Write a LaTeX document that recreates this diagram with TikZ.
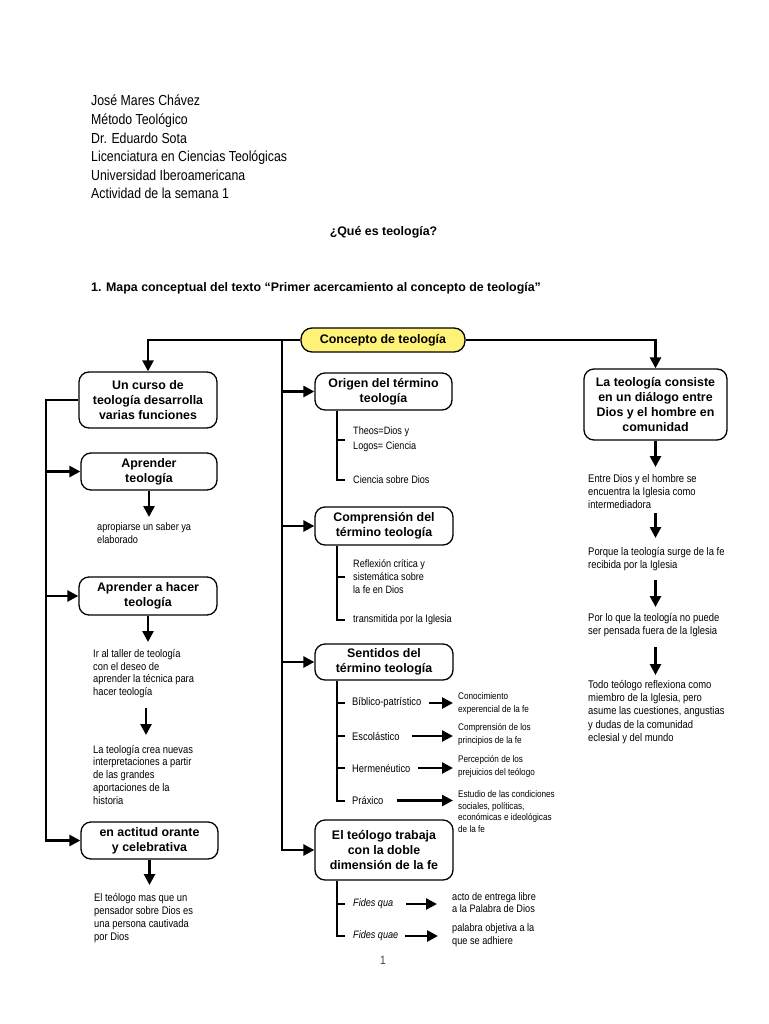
\documentclass[tikz,border=0pt]{standalone}
\usepackage{fontspec}
\setmainfont{Liberation Sans}
\newfontfamily\nf{Liberation Sans}[FakeStretch=0.85]
\usetikzlibrary{arrows.meta}
\definecolor{cyel}{RGB}{255,242,120}
\newcommand\myfz[2]{\nf\fontsize{#1}{#2}\selectfont}
\begin{document}
\begin{tikzpicture}[x=1pt,y=-1pt,
  box/.style={draw,line width=1.3pt,rounded corners=10pt,align=center,inner sep=0pt,
    font=\fontsize{12.4}{15}\selectfont\bfseries},
  conn/.style={line width=2.6pt},
  arr/.style={conn,-{Triangle[length=11pt,width=11pt]}},
  brk/.style={line width=2pt},
  hdr/.style={anchor=base west,inner sep=0pt,font=\myfz{14.5}{19}},
  txt/.style={anchor=west,align=left,inner sep=0pt}]
\fill[white] (0,0) rectangle (768,1024);
\useasboundingbox (0,0) rectangle (768,1024);

% header
\node[hdr] (h1) at (91,106) {José Mares Chávez};
\node[hdr] (h2) at (91,124.6) {Método Teológico};
\node[hdr] (h3) at (91,143.2) {Dr. Eduardo Sota};
\node[hdr] (h4) at (91,161.8) {Licenciatura en Ciencias Teológicas};
\node[hdr] (h5) at (91,180.4) {Universidad Iberoamericana};
\node[hdr] (h6) at (91,199) {Actividad de la semana 1};
\node[anchor=base,inner sep=0pt,font=\fontsize{12.4}{15}\selectfont\bfseries] (ttl) at (383.5,235.5) {¿Qué es teología?};
\node[anchor=base west,inner sep=0pt,font=\fontsize{12.4}{15}\selectfont\bfseries] (sub) at (91,291.5) {1. Mapa conceptual del texto “Primer acercamiento al concepto de teología”};

% boxes
\node[draw,fill=cyel,line width=1.3pt,rounded corners=11pt,minimum width=164pt,minimum height=24pt,inner sep=0pt,
  font=\fontsize{12.4}{15}\selectfont\bfseries] (c0) at (383,340) {Concepto de teología};
\node[box,minimum width=138pt,minimum height=56pt] (L1) at (148,400) {Un curso de\\teología desarrolla\\varias funciones};
\node[box,minimum width=136pt,minimum height=37pt] (L2) at (149,471.5) {Aprender\\teología};
\node[box,minimum width=138pt,minimum height=38pt] (L3) at (148,596) {Aprender a hacer\\teología};
\node[box,minimum width=137pt,minimum height=37pt] (L4) at (149.5,840.5) {en actitud orante\\y celebrativa};
\node[box,minimum width=137pt,minimum height=37pt] (M1) at (383.5,391.5) {Origen del término\\teología};
\node[box,minimum width=138pt,minimum height=38pt] (M2) at (384,526) {Comprensión del\\término teología};
\node[box,minimum width=138pt,minimum height=36pt] (M3) at (384,662) {Sentidos del\\término teología};
\node[box,minimum width=138pt,minimum height=60pt] (M4) at (384,850) {El teólogo trabaja\\con la doble\\dimensión de la fe};
\node[box,minimum width=143pt,minimum height=71pt] (R1) at (655.5,404.5) {La teología consiste\\en un diálogo entre\\Dios y el hombre en\\comunidad};

% left texts
\node[txt,font=\myfz{10.8}{13}] (tA) at (97,533.5) {apropiarse un saber ya\\elaborado};
\node[txt,font=\myfz{11}{12.5}] (tB) at (93,673.5) {Ir al taller de teología\\con el deseo de\\aprender la técnica para\\hacer teología};
\node[txt,font=\myfz{11}{12.75}] (tC) at (93,774.5) {La teología crea nuevas\\interpretaciones a partir\\de las grandes\\aportaciones de la\\historia};
\node[txt,font=\myfz{11}{13.1}] (tD) at (94,918) {El teólogo mas que un\\pensador sobre Dios es\\una persona cautivada\\por Dios};

% middle texts
\node[txt,font=\myfz{10.7}{15}] (tE) at (353,439.5) {Theos=Dios y\\Logos= Ciencia};
\node[txt,font=\myfz{10.7}{13}] (tF) at (353,479.5) {Ciencia sobre Dios};
\node[txt,font=\myfz{10.7}{13.3}] (tG) at (353,576.7) {Reflexión crítica y\\sistemática sobre\\la fe en Dios};
\node[txt,font=\myfz{10.7}{13}] (tH) at (353,619.5) {transmitida por la Iglesia};
\node[txt,font=\myfz{11}{13}] (s1) at (352,703) {Bíblico-patrístico};
\node[txt,font=\myfz{11}{13}] (s2) at (352,736) {Escolástico};
\node[txt,font=\myfz{11}{13}] (s3) at (352,768) {Hermenéutico};
\node[txt,font=\myfz{11}{13}] (s4) at (352,800.5) {Práxico};
\node[txt,font=\myfz{9.6}{12.8}] (sr1) at (458,703.5) {Conocimiento\\experencial de la fe};
\node[txt,font=\myfz{9.6}{12.8}] (sr2) at (458,734.5) {Comprensión de los\\principios de la fe};
\node[txt,font=\myfz{9.6}{12.6}] (sr3) at (458,766.3) {Percepción de los\\prejuicios del teólogo};
\node[txt,font=\myfz{9.6}{11.8}] (sr4) at (458,811.6) {Estudio de las condiciones\\sociales, políticas,\\económicas e ideológicas\\de la fe};
\node[txt,font=\myfz{10.7}{13}\itshape] (f1) at (353,904) {Fides qua};
\node[txt,font=\myfz{10.7}{13}\itshape] (f2) at (353,936) {Fides quae};
\node[txt,font=\myfz{10.8}{12.2}] (fr1) at (452,903) {acto de entrega libre\\a la Palabra de Dios};
\node[txt,font=\myfz{10.8}{13}] (fr2) at (452,935.5) {palabra objetiva a la\\que se adhiere};

% right texts
\node[txt,font=\myfz{11.1}{13}] (r1) at (588,492) {Entre Dios y el hombre se\\encuentra la Iglesia como\\intermediadora};
\node[txt,font=\myfz{11.1}{12.5}] (r2) at (588,559) {Porque la teología surge de la fe\\recibida por la Iglesia};
\node[txt,font=\myfz{11.1}{13}] (r3) at (588,625.5) {Por lo que la teología no puede\\ser pensada fuera de la Iglesia};
\node[txt,font=\myfz{11.1}{13.1}] (r4) at (588,712) {Todo teólogo reflexiona como\\miembro de la Iglesia, pero\\asume las cuestiones, angustias\\y dudas de la comunidad\\eclesial y del mundo};

\node[inner sep=0pt,font=\myfz{12}{14},text=black!75] (pg) at (383,960) {1};

% main connectors
\coordinate (tr) at (282,340);
\coordinate (sp) at (46,400);
\draw[arr] (c0.west) -| (L1.north);
\draw[arr] (c0.east) -| (R1.north);
\draw[arr] (tr) |- (M4.west);
\draw[arr] (tr |- M1.west) -- (M1.west);
\draw[arr] (tr |- M2.west) -- (M2.west);
\draw[arr] (tr |- M3.west) -- (M3.west);
\draw[arr] (L1.west) -- (sp) |- (L4.west);
\draw[arr] (sp |- L2.west) -- (L2.west);
\draw[arr] (sp |- L3.west) -- (L3.west);

% left down arrows
\coordinate (eA) at (149,517);
\coordinate (eB) at (148,642);
\coordinate (sC) at (146,708);
\coordinate (eC) at (146,735);
\coordinate (eD) at (149.5,885);
\draw[arr] (L2.south) -- (eA);
\draw[arr] (L3.south) -- (eB);
\draw[arr] (sC) -- (eC);
\draw[arr] (L4.south) -- (eD);

% right down arrows
\coordinate (q1) at (655.5,467);
\coordinate (q2a) at (655.5,513);
\coordinate (q2b) at (655.5,538);
\coordinate (q3a) at (655.5,580);
\coordinate (q3b) at (655.5,607);
\coordinate (q4a) at (655.5,647);
\coordinate (q4b) at (655.5,675);
\draw[arr] (R1.south) -- (q1);
\draw[arr] (q2a) -- (q2b);
\draw[arr] (q3a) -- (q3b);
\draw[arr] (q4a) -- (q4b);

% brackets
\coordinate (bx) at (337,0);
\draw[brk] (M1.south -| bx) |- ([xshift=-8pt]tF.west);
\draw[brk] (bx |- tE.west) -- ([xshift=-8pt]tE.west);
\draw[brk] (M2.south -| bx) |- ([xshift=-8pt]tH.west);
\draw[brk] (bx |- tG.west) -- ([xshift=-8pt]tG.west);
\draw[brk] (M3.south -| bx) |- ([xshift=-7pt]s4.west);
\draw[brk] (bx |- s1.west) -- ([xshift=-7pt]s1.west);
\draw[brk] (bx |- s2.west) -- ([xshift=-7pt]s2.west);
\draw[brk] (bx |- s3.west) -- ([xshift=-7pt]s3.west);
\draw[brk] (M4.south -| bx) |- ([xshift=-8pt]f2.west);
\draw[brk] (bx |- f1.west) -- ([xshift=-8pt]f1.west);

% sentidos arrows
\draw[arr,shorten >=5pt] ([xshift=7pt]s1.east) -- (s1.east -| sr1.west);
\draw[arr,shorten >=5pt] ([xshift=12pt]s2.east) -- (s2.east -| sr2.west);
\draw[arr,shorten >=5pt] ([xshift=7pt]s3.east) -- (s3.east -| sr3.west);
\draw[arr,shorten >=5pt] ([xshift=13pt]s4.east) -- (s4.east -| sr4.west);
\draw[arr,shorten >=15pt] ([xshift=13pt]f1.east) -- (f1.east -| fr1.west);
\draw[arr,shorten >=14pt] ([xshift=7pt]f2.east) -- (f2.east -| fr2.west);
\end{tikzpicture}
\end{document}
